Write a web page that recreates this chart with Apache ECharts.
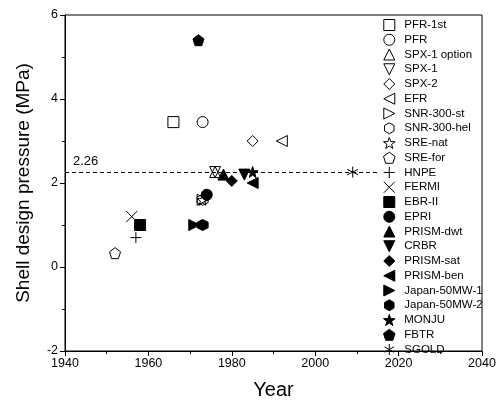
<!DOCTYPE html>
<html>
<head>
<meta charset="utf-8">
<script src="https://cdn.jsdelivr.net/npm/echarts@6/dist/echarts.min.js"></script>
<style>
    html, body { margin: 0; padding: 0; background: #fff; }
    #main { width: 502px; height: 405px; }
</style>
</head>
<body>
<div id="main"></div>
<script>
// reactor names, year and shell design pressure (MPa)
var reactors = ['PFR-1st', 'PFR', 'SPX-1 option', 'SPX-1', 'SPX-2', 'EFR', 'SNR-300-st', 'SNR-300-hel',
    'SRE-nat', 'SRE-for', 'HNPE', 'FERMI', 'EBR-II', 'EPRI', 'PRISM-dwt', 'CRBR', 'PRISM-sat',
    'PRISM-ben', 'Japan-50MW-1', 'Japan-50MW-2', 'MONJU', 'FBTR', 'SGOLD'];
var years = [1966, 1973, 1976, 1976, 1985, 1992, 1973, 1973,
    1973, 1952, 1957, 1956, 1958, 1974, 1978, 1983, 1980,
    1985, 1971, 1973, 1985, 1972, 2009];
var pressures = [3.45, 3.45, 2.26, 2.26, 3.0, 3.0, 1.6, 1.6,
    1.6, 0.33, 0.7, 1.2, 1.0, 1.72, 2.2, 2.2, 2.05,
    2.0, 1.0, 1.0, 2.26, 5.4, 2.26];

var xTicks = [1940, 1960, 1980, 2000, 2020, 2040];
var yTicks = [-2, 0, 2, 4, 6];
var refValue = 2.26;
var refEnd = 2015;

// marker shapes (open / filled), same order as reactors
var shapes = ['square', 'circle', 'up', 'down', 'diamond', 'left', 'right', 'hexagon',
    'star', 'pentagon', 'plus', 'cross', 'square', 'circle', 'up', 'down', 'diamond',
    'left', 'right', 'hexagon', 'star', 'pentagon', 'asterisk'];
var filled = [0, 0, 0, 0, 0, 0, 0, 0, 0, 0, 0, 0, 1, 1, 1, 1, 1, 1, 1, 1, 1, 1, 0];

var paths = {
    square: 'path://M0,0L10,0L10,10L0,10Z',
    circle: 'path://M0,5A5,5,0,1,1,10,5A5,5,0,1,1,0,5Z',
    up: 'path://M5,0L10,10L0,10Z',
    down: 'path://M0,0L10,0L5,10Z',
    diamond: 'path://M5,0L10,5L5,10L0,5Z',
    left: 'path://M0,5L10,0L10,10Z',
    right: 'path://M0,0L10,5L0,10Z',
    hexagon: 'path://M5,0L9.3,2.5L9.3,7.5L5,10L0.7,7.5L0.7,2.5Z',
    star: 'path://M5,0L6.18,3.38L9.76,3.45L6.9,5.62L7.94,9.05L5,7L2.06,9.05L3.1,5.62L0.24,3.45L3.82,3.38Z',
    pentagon: 'path://M5,0L9.76,3.45L7.94,9.05L2.06,9.05L0.24,3.45Z',
    plus: 'path://M5,0L5,10M0,5L10,5',
    cross: 'path://M0,0L10,10M10,0L0,10',
    asterisk: 'path://M5,0L5,10M0.7,2.5L9.3,7.5M9.3,2.5L0.7,7.5'
};

var fontName = 'Liberation Sans, Arial, sans-serif';

var seriesList = [];
for (var i = 0; i < reactors.length; i++) {
    var s = {
        name: reactors[i],
        type: 'scatter',
        symbol: paths[shapes[i]],
        symbolSize: 11,
        data: [[years[i], pressures[i]]],
        itemStyle: {
            color: filled[i] ? '#000' : 'transparent',
            borderColor: '#000',
            borderWidth: 1,
            opacity: 1
        },
        emphasis: { disabled: true },
        z: 3
    };
    seriesList.push(s);
}
// dashed reference line at 2.26
seriesList[0].markLine = {
    silent: true,
    symbol: 'none',
    lineStyle: { color: '#000', type: [4, 3], width: 1 },
    label: {
        show: true,
        position: 'insideStartTop',
        formatter: String(refValue),
        color: '#000',
        fontSize: 13,
        fontFamily: fontName,
        distance: [8, 4]
    },
    data: [[{ coord: [xTicks[0], refValue] }, { coord: [refEnd, refValue] }]]
};

var myChart = echarts.init(document.getElementById('main'));
var option = {
    animation: false,
    backgroundColor: '#fff',
    grid: {
        left: 65, right: 20, top: 15, bottom: 54,
        show: true, borderColor: '#000', borderWidth: 1
    },
    legend: {
        orient: 'vertical',
        left: 378,
        top: 14,
        itemWidth: 20,
        itemHeight: 11,
        itemGap: 2.75,
        itemStyle: { borderWidth: 1 },
        textStyle: { fontSize: 11.5, fontFamily: fontName, color: '#000' },
        data: reactors
    },
    xAxis: {
        type: 'value',
        min: xTicks[0],
        max: xTicks[xTicks.length - 1],
        interval: 20,
        name: 'Year',
        nameLocation: 'middle',
        nameGap: 29,
        nameTextStyle: { fontSize: 20, fontFamily: fontName, color: '#000' },
        axisLine: { onZero: false, lineStyle: { color: '#000', width: 1 } },
        axisTick: { show: true, inside: false, length: 5, lineStyle: { color: '#000' } },
        minorTick: { show: true, splitNumber: 2, length: 3, lineStyle: { color: '#000' } },
        axisLabel: {
            fontSize: 12.5, fontFamily: fontName, color: '#000', margin: 6,
            formatter: function (v) { return String(v); }
        },
        splitLine: { show: false }
    },
    yAxis: {
        type: 'value',
        min: yTicks[0],
        max: yTicks[yTicks.length - 1],
        interval: 2,
        name: 'Shell design pressure (MPa)',
        nameLocation: 'middle',
        nameGap: 32,
        nameTextStyle: { fontSize: 19, fontFamily: fontName, color: '#000' },
        axisLine: { show: true, onZero: false, lineStyle: { color: '#000', width: 1 } },
        axisTick: { show: true, inside: false, length: 5, lineStyle: { color: '#000' } },
        minorTick: { show: true, splitNumber: 2, length: 3, lineStyle: { color: '#000' } },
        axisLabel: { fontSize: 12.5, fontFamily: fontName, color: '#000', margin: 7 },
        splitLine: { show: false }
    },
    series: seriesList
};

myChart.setOption(option);
</script>
</body>
</html>
